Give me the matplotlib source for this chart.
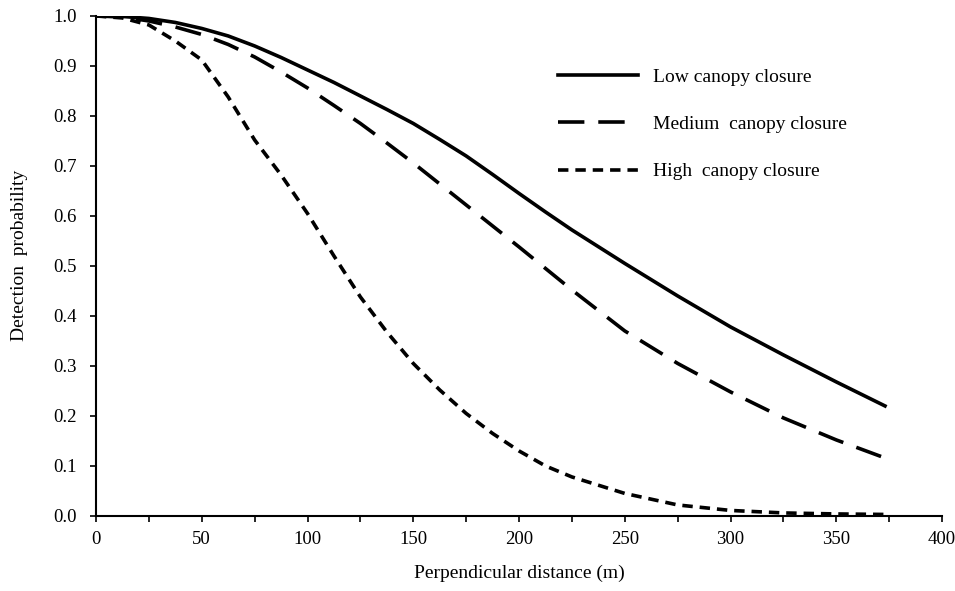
import numpy as np
import matplotlib
matplotlib.use("Agg")
import matplotlib.pyplot as plt
from matplotlib.ticker import MultipleLocator, FormatStrFormatter

plt.rcParams["font.family"] = ["Liberation Serif", "DejaVu Serif"]
plt.rcParams["lines.scale_dashes"] = False

# distance (m) and detection probability
dist = [0, 12.5, 25, 37.5, 50, 62.5, 75, 87.5, 100, 112.5, 125, 137.5, 150,
        162.5, 175, 187.5, 200, 212.5, 225, 250, 275, 300, 325, 350, 373]
low = [1.0, 0.999, 0.995, 0.987, 0.975, 0.96, 0.94, 0.917, 0.892, 0.867, 0.84,
       0.813, 0.785, 0.753, 0.72, 0.683, 0.645, 0.608, 0.572, 0.505,
       0.44, 0.378, 0.322, 0.268, 0.22]
medium = [1.0, 0.998, 0.99, 0.978, 0.963, 0.943, 0.918, 0.888, 0.856, 0.821,
          0.785, 0.746, 0.706, 0.664, 0.622, 0.58, 0.538, 0.495, 0.452, 0.37,
          0.305, 0.248, 0.196, 0.152, 0.116]
high = [1.0, 0.996, 0.982, 0.95, 0.912, 0.838, 0.752, 0.682, 0.605, 0.52,
        0.438, 0.368, 0.305, 0.252, 0.205, 0.165, 0.13, 0.1, 0.078,
        0.045, 0.022, 0.011, 0.006, 0.004, 0.003]

labels = ["Low canopy closure", "Medium  canopy closure", "High  canopy closure"]

fig = plt.figure(figsize=(9.55, 5.91), dpi=100)
ax = fig.add_axes([0.1005, 0.127, 0.886, 0.846])

lw = 2.6
ax.plot(dist, low, color="black", lw=lw, label=labels[0])
ax.plot(dist, medium, color="black", lw=lw, dashes=(19, 10), label=labels[1])
ax.plot(dist, high, color="black", lw=lw, dashes=(7.5, 5), label=labels[2])

ax.set_xlim(0, 400)
ax.set_ylim(0, 1.0)
ax.xaxis.set_major_locator(MultipleLocator(50))
ax.xaxis.set_minor_locator(MultipleLocator(25))
ax.yaxis.set_major_locator(MultipleLocator(0.1))
ax.yaxis.set_major_formatter(FormatStrFormatter("%.1f"))

for s in ["top", "right"]:
    ax.spines[s].set_visible(False)
for s in ["left", "bottom"]:
    ax.spines[s].set_linewidth(1.5)

ax.tick_params(which="both", direction="out", length=4, width=1.2, labelsize=13.5)
ax.tick_params(axis="x", pad=7)
ax.tick_params(axis="y", pad=10)

ax.set_xlabel("Perpendicular distance (m)", fontsize=14)
ax.xaxis.set_label_coords(0.5, -0.098)
ax.set_ylabel("Detection  probability", fontsize=14)
ax.yaxis.set_label_coords(-0.08, 0.522)

ax.legend(loc="upper left", bbox_to_anchor=(0.525, 0.93), frameon=False,
          fontsize=14, handlelength=4.15, handletextpad=0.75, labelspacing=1.52)

fig.savefig("out.png", dpi=100)
